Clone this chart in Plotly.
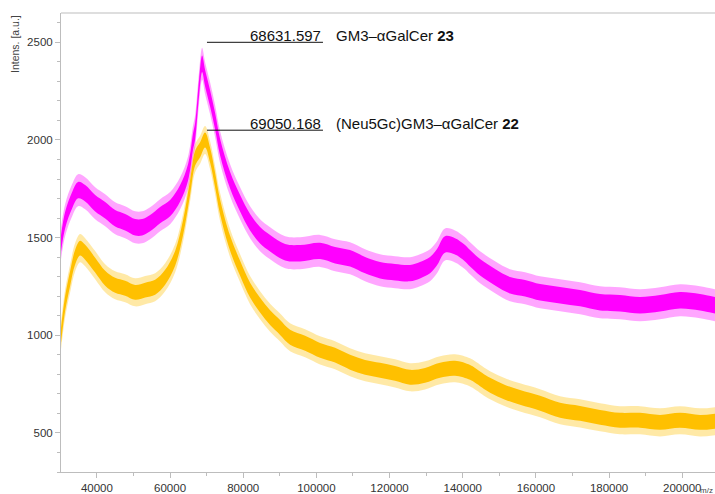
import plotly.graph_objects as go

# m/z positions (Da) and band-centre intensities
mz_magenta = [30200, 31340, 33250, 34890, 36800, 39540, 42270, 45000, 47730, 50460,
              52380, 54560, 57290, 60030, 62760, 64940, 66310, 66860, 67950, 68770,
              69590, 70950, 72320, 73690, 76420, 79150, 81880, 84610, 87350, 91450,
              95540, 101010, 105100, 109200, 113300, 117400, 121490, 125590, 128320,
              131060, 132970, 135160, 137890, 140630, 142000, 144740, 148840, 152940,
              157040, 161140, 166600, 172070, 177530, 182990, 188460, 193920, 199380,
              204850, 208950]
int_magenta = [1470, 1590, 1692, 1743, 1727, 1676, 1640, 1599, 1579, 1553,
               1553, 1574, 1615, 1651, 1727, 1835, 1994, 2046, 2270, 2390,
               2316, 2213, 2096, 1963, 1794, 1676, 1579, 1512, 1471, 1425,
               1420, 1432, 1410, 1394, 1359, 1333, 1323, 1318, 1333,
               1359, 1400, 1465, 1455, 1420, 1394, 1348, 1297, 1256,
               1241, 1220, 1205, 1190, 1169, 1164, 1154, 1164, 1179,
               1169, 1154]

mz_yellow = [30200, 31340, 32710, 34070, 35440, 36800, 39540, 42270, 45000, 47730,
             50460, 53200, 55930, 58660, 61390, 63580, 65490, 66860, 68220, 69590,
             70950, 72320, 73690, 76420, 79150, 81880, 84610, 87350, 90080, 92810,
             96910, 101010, 105100, 109200, 113300, 117400, 121490, 125590, 129690,
             133790, 137890, 142000, 143370, 147470, 151570, 155670, 161140, 166600,
             172070, 177530, 182990, 188460, 193920, 199380, 204850, 208950]
int_yellow = [1000, 1164, 1292, 1400, 1446, 1425, 1359, 1292, 1256, 1241,
              1220, 1231, 1246, 1297, 1394, 1553, 1758, 1907, 1950, 2000,
              1922, 1794, 1656, 1471, 1343, 1231, 1154, 1090, 1040, 990,
              959, 923, 898, 862, 836, 821, 805, 785, 795,
              821, 831, 810, 795, 744, 708, 682, 652, 616,
              600, 580, 565, 565, 554, 565, 554, 560]

peak_labels = ["68631.597", "69050.168"]
peak_names = ["GM3\u2013\u03b1GalCer <b>23</b>", "(Neu5Gc)GM3\u2013\u03b1GalCer <b>22</b>"]
peak_levels = [2500, 2050]

x_ticks = [40000, 60000, 80000, 100000, 120000, 140000, 160000, 180000, 200000]
x_tick_text = [str(v) for v in x_ticks]
y_ticks = [500, 1000, 1500, 2000, 2500]

MAGENTA = (255, 0, 255)
YELLOW = (255, 192, 0)

fig = go.Figure()


def rgba(c, a):
    return "rgba(%d,%d,%d,%.2f)" % (c[0], c[1], c[2], a)


def add_band(x, y, color, inner, outer):
    layers = [(outer, 0.35), (inner, 1.0)]
    for half, alpha in layers:
        fig.add_trace(go.Scatter(x=x, y=[v - half for v in y], mode="lines",
                                 line=dict(width=0, color=rgba(color, alpha), shape="spline"),
                                 hoverinfo="skip", showlegend=False))
        fig.add_trace(go.Scatter(x=x, y=[v + half for v in y], mode="lines",
                                 line=dict(width=0, color=rgba(color, alpha), shape="spline"),
                                 fill="tonexty", fillcolor=rgba(color, alpha),
                                 hoverinfo="skip", showlegend=False))


add_band(mz_yellow, int_yellow, YELLOW, 38, 72)
add_band(mz_magenta, int_magenta, MAGENTA, 42, 82)

FONT = "Liberation Sans, Arial, sans-serif"
AXIS_GREY = "#bdbdbd"

shapes = [dict(type="line", xref="paper", yref="paper", x0=0, x1=1, y0=1, y1=1,
               line=dict(color=AXIS_GREY, width=1))]
annotations = []
for lab, name, lev in zip(peak_labels, peak_names, peak_levels):
    shapes.append(dict(type="line", xref="x", yref="y", x0=70100, x1=101800,
                       y0=lev, y1=lev, line=dict(color="#111111", width=1)))
    annotations.append(dict(x=101800, y=lev, xref="x", yref="y", text=lab,
                            xanchor="right", yanchor="bottom", showarrow=False,
                            yshift=-4, font=dict(family=FONT, size=15, color="#111111")))
    annotations.append(dict(x=104830, y=lev, xref="x", yref="y", text=name,
                            xanchor="left", yanchor="bottom", showarrow=False,
                            yshift=-4, font=dict(family=FONT, size=15, color="#111111")))

annotations.append(dict(x=0, y=1, xref="paper", yref="paper", text="Intens. [a.u.]",
                        textangle=-90, xanchor="center", yanchor="top", xshift=-46,
                        showarrow=False, font=dict(family=FONT, size=10.5, color="#444444")))
annotations.append(dict(x=1, y=0, xref="paper", yref="paper", text="m/z",
                        xanchor="right", yanchor="top", xshift=0, yshift=-12,
                        showarrow=False, font=dict(family=FONT, size=8, color="#444444")))

fig.update_layout(
    width=715, height=494,
    margin=dict(l=61, r=0, t=13, b=22),
    paper_bgcolor="white", plot_bgcolor="white",
    showlegend=False,
    shapes=shapes, annotations=annotations,
    font=dict(family=FONT, size=11.5, color="#333333"),
)
fig.update_xaxes(range=[30200, 208950], tickvals=x_ticks, ticktext=x_tick_text,
                 ticks="outside", ticklen=5,
                 tickcolor=AXIS_GREY, showline=True, linecolor=AXIS_GREY, showgrid=False,
                 zeroline=False, automargin=False,
                 minor=dict(dtick=10000, tick0=0, ticks="outside", ticklen=3,
                            tickcolor=AXIS_GREY, showgrid=False))
fig.update_yaxes(range=[300, 2650], tickvals=y_ticks, ticks="outside", ticklen=5,
                 tickcolor=AXIS_GREY, showline=True, linecolor=AXIS_GREY, showgrid=False,
                 zeroline=False, automargin=False,
                 minor=dict(dtick=100, tick0=0, ticks="outside", ticklen=3,
                            tickcolor=AXIS_GREY, showgrid=False))

fig.write_html("out.html")
